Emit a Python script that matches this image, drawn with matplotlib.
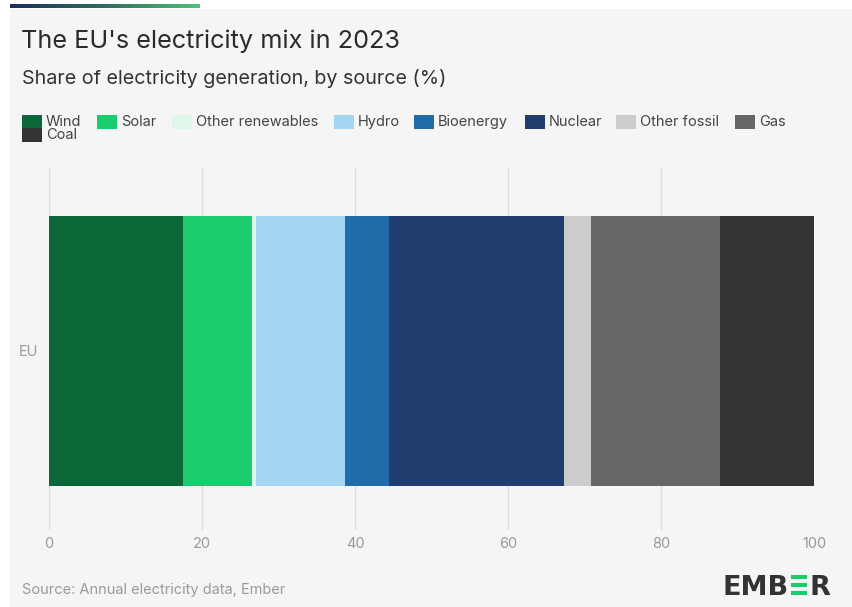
#!/usr/bin/env python3
"""
The EU's electricity mix in 2023 - single stacked horizontal bar
"""

import numpy as np
import matplotlib
matplotlib.use("Agg")
import matplotlib.pyplot as plt
from matplotlib.patches import Rectangle

# DATA
sources = ["Wind", "Solar", "Other renewables", "Hydro", "Bioenergy",
           "Nuclear", "Other fossil", "Gas", "Coal"]
shares = [17.5, 9.1, 0.4, 11.7, 5.8, 22.8, 3.6, 16.8, 12.3]
colors = ["#0b6638", "#1bcc6f", "#dff7ea", "#a4d6f3", "#1f6ca8",
          "#1f3d6e", "#cccccc", "#666666", "#333333"]
region = ["EU"]
xticks = [0, 20, 40, 60, 80, 100]

title = "The EU's electricity mix in 2023"
subtitle = "Share of electricity generation, by source (%)"
source_note = "Source: Annual electricity data, Ember"

BG = "#f5f5f5"
W, H = 853, 607

plt.rcParams['font.family'] = ['Inter', 'DejaVu Sans']

fig = plt.figure(figsize=(W / 100, H / 100), dpi=100, facecolor="white")

# light background panel (thin white margin left/top like the screenshot)
fig.patches.append(Rectangle((10 / W, 0), 1, 1 - 9 / H, transform=fig.transFigure,
                             facecolor=BG, edgecolor="none", zorder=-10))

# gradient strip at the top
gax = fig.add_axes([10 / W, 1 - 8 / H, 190 / W, 4 / H])
grad = np.linspace(0, 1, 256)[None, :]
cmap = matplotlib.colors.LinearSegmentedColormap.from_list(
    "ember", ["#1c2f5a", "#2f6f5e", "#52c07a"])
gax.imshow(grad, aspect="auto", cmap=cmap)
gax.axis("off")

# titles
fig.text(21 / W, 1 - 41 / H, title, fontsize=18.2, color="#2b2b2b",
         va="center", ha="left")
fig.text(22 / W, 1 - 78 / H, subtitle, fontsize=14.2, color="#333333",
         va="center", ha="left")

# legend (manually laid out, wraps Coal onto second row)
leg_pos = [(22, 122), (97, 122), (172, 122), (334, 122), (414, 122),
           (525, 122), (616, 122), (735, 122), (22, 135)]
for name, col, (px, py) in zip(sources, colors, leg_pos):
    fig.patches.append(Rectangle((px / W, 1 - (py + 7) / H), 20 / W, 14 / H,
                                 transform=fig.transFigure, facecolor=col,
                                 edgecolor="none"))
    fig.text((px + 24) / W, 1 - py / H, name, fontsize=10.5, color="#444444",
             va="center", ha="left")

# main axes
ax = fig.add_axes([49 / W, 1 - 530 / H, 765 / W, 362 / H])
ax.set_facecolor(BG)
left = 0
for name, val, col in zip(sources, shares, colors):
    ax.barh(region, [val], left=left, height=0.745, color=col,
            edgecolor="none", zorder=3)
    left += val

ax.set_xlim(0, 100)
ax.set_ylim(-0.4945, 0.5055)
ax.set_xticks(xticks)
ax.set_xticklabels([str(t) for t in xticks])
ax.grid(axis="x", color="#dcdcdc", linewidth=1.0, zorder=0)
for sp in ax.spines.values():
    sp.set_visible(False)
ax.tick_params(axis="both", length=0, colors="#999999", labelsize=10.5)
ax.tick_params(axis="x", pad=5)
ax.tick_params(axis="y", pad=8)

# source note
fig.text(22 / W, 1 - 590 / H, source_note, fontsize=10.5, color="#9a9a9a",
         va="center", ha="left")

# EMBER logo: text with the green striped E
base_y = 1 - 595 / H
t1 = fig.text(723 / W, base_y, "EMB", fontsize=19.5, fontweight="bold",
              color="#333333", va="baseline", ha="left", family="DejaVu Sans")
fig.canvas.draw()
r = fig.canvas.get_renderer()
b1 = t1.get_window_extent(r)
ex0 = b1.x1 + 2
ex1 = ex0 + 16
ytop = 1 - 575 / H
ybot = base_y
bh = (ytop - ybot) / 5
for k in range(3):
    y0 = ybot + k * 2 * bh
    fig.patches.append(Rectangle((ex0 / W, y0), (ex1 - ex0) / W, bh,
                                 transform=fig.transFigure,
                                 facecolor="#1bcc6f", edgecolor="none"))
fig.text((ex1 + 2) / W, base_y, "R", fontsize=19.5, fontweight="bold",
         color="#333333", va="baseline", ha="left", family="DejaVu Sans")

fig.savefig("out.png", dpi=100, facecolor="white")
